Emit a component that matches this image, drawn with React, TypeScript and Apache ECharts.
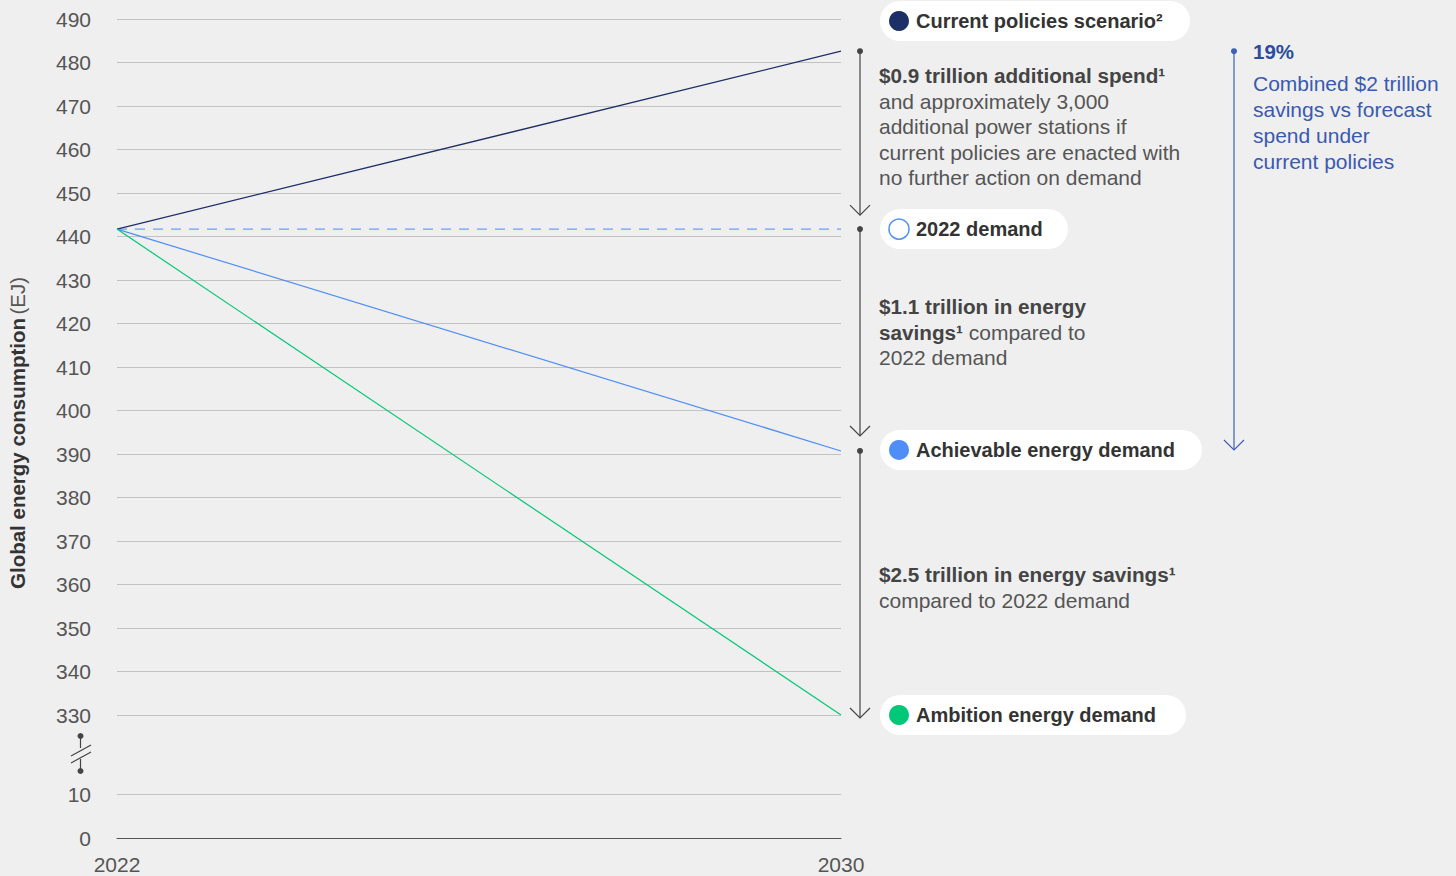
import React, { useEffect, useRef } from "react";
import * as echarts from "echarts";

const years = ["2022", "2030"];
const currentPolicies = [441.7, 482.6];
const demand2022 = [441.7, 441.7];
const achievable = [441.7, 390.7];
const ambition = [441.7, 330];
const upperMin = 330;
const upperMax = 490;
const lowerMin = 0;
const lowerMax = 10;
const tickStep = 10;

const FONT = "'Liberation Sans', Arial, Helvetica, sans-serif";
const BG = "#efefef";
const NAVY = "#1c2f66";
const BLUE = "#4f8ef7";
const LIGHTBLUE = "#6f9ff5";
const GREEN = "#00c877";
const TXT = "#333333";
const TXT2 = "#555555";
const ANN = "#3a5ab0";

export default function App() {
  const ref = useRef<HTMLDivElement>(null);
  useEffect(() => {
    if (!ref.current) return;
    const chart = echarts.init(ref.current, undefined, { renderer: "svg" });
    const axisLabel = { fontSize: 21, color: TXT2, fontFamily: FONT };
    chart.setOption({
      animation: false,
      backgroundColor: BG,
      grid: [
        { left: 117, right: 615, top: 19, height: 696 },
        { left: 117, right: 615, top: 794, height: 44 },
      ],
      xAxis: [
        {
          type: "category", gridIndex: 0, data: years, boundaryGap: false,
          axisLine: { show: false }, axisTick: { show: false }, axisLabel: { show: false }, splitLine: { show: false },
        },
        {
          type: "category", gridIndex: 1, data: years, boundaryGap: false,
          axisLine: { show: true, lineStyle: { color: "#555", width: 1 } }, axisTick: { show: false },
          axisLabel: { ...axisLabel, margin: 16 }, splitLine: { show: false },
        },
      ],
      yAxis: [
        {
          type: "value", gridIndex: 0, min: upperMin, max: upperMax, interval: tickStep,
          axisLine: { show: false }, axisTick: { show: false },
          axisLabel: { ...axisLabel, margin: 26 },
          splitLine: { lineStyle: { color: "#c2c2c2", width: 1 } },
        },
        {
          type: "value", gridIndex: 1, min: lowerMin, max: lowerMax, interval: tickStep,
          axisLine: { show: false }, axisTick: { show: false },
          axisLabel: { ...axisLabel, margin: 26 },
          splitLine: { lineStyle: { color: "#c2c2c2", width: 1 } },
        },
      ],
      series: [
        { name: "2022 demand", type: "line", xAxisIndex: 0, yAxisIndex: 0, data: demand2022, symbol: "none",
          lineStyle: { color: LIGHTBLUE, width: 1.3, type: [10, 8] }, z: 2 },
        { name: "Current policies scenario", type: "line", xAxisIndex: 0, yAxisIndex: 0, data: currentPolicies, symbol: "none",
          lineStyle: { color: NAVY, width: 1.3 }, z: 3 },
        { name: "Achievable energy demand", type: "line", xAxisIndex: 0, yAxisIndex: 0, data: achievable, symbol: "none",
          lineStyle: { color: BLUE, width: 1.2 }, z: 3 },
        { name: "Ambition energy demand", type: "line", xAxisIndex: 0, yAxisIndex: 0, data: ambition, symbol: "none",
          lineStyle: { color: GREEN, width: 1.2 }, z: 3 },
        { type: "line", xAxisIndex: 1, yAxisIndex: 1, data: [], symbol: "none" },
      ],
    });

    const py = (v: number) => chart.convertToPixel({ yAxisIndex: 0 }, v) as number;
    const yCur = py(currentPolicies[1]);
    const yDem = py(demand2022[1]);
    const yAch = py(achievable[1]);
    const yAmb = py(ambition[1]);
    const yTop = py(upperMax);

    const ax = 860;
    const arrow = (x: number, y1: number, y2: number, color: string, w = 1.2) => [
      { type: "line", shape: { x1: x, y1, x2: x, y2 }, style: { stroke: color, lineWidth: w } },
      { type: "circle", shape: { cx: x, cy: y1, r: 3 }, style: { fill: color } },
      { type: "polyline", shape: { points: [[x - 10, y2 - 10], [x, y2], [x + 10, y2 - 10]] }, style: { stroke: color, lineWidth: w, fill: "none" } },
    ];

    const pill = (cy: number, w: number, label: string, circleStyle: any) => [
      { type: "rect", shape: { x: 880, y: cy - 20, width: w, height: 40, r: 20 }, style: { fill: "#ffffff" } },
      { type: "circle", shape: { cx: 899, cy, r: 10 }, style: circleStyle },
      { type: "text", x: 916, y: cy, style: { text: label, font: `bold 20px ${FONT}`, fill: TXT, verticalAlign: "middle" } },
    ];

    const richBlock = (x: number, y: number, text: string, lh: number, color: string) => ({
      type: "text", x, y,
      style: {
        text, verticalAlign: "top", lineHeight: lh,
        rich: {
          b: { fontFamily: FONT, fontSize: 20.7, fontWeight: "bold", fill: "#444", lineHeight: lh },
          n: { fontFamily: FONT, fontSize: 21, fontWeight: "normal", fill: color, lineHeight: lh },
        },
      },
    });

    const graphic: any[] = [
      ...arrow(ax, yCur, yDem - 14, "#444"),
      ...arrow(ax, yDem, yAch - 15, "#444"),
      ...arrow(ax, yAch, yAmb + 3, "#444"),
      ...arrow(1234, yCur, yAch - 1, "#3d5fb8"),
      ...pill(yTop + 2, 310, "Current policies scenario²", { fill: NAVY }),
      ...pill(yDem, 188, "2022 demand", { fill: "#ffffff", stroke: BLUE, lineWidth: 1.5 }),
      ...pill(yAch - 1, 322, "Achievable energy demand", { fill: BLUE }),
      ...pill(yAmb, 306, "Ambition energy demand", { fill: GREEN }),
      richBlock(879, 63,
        "{b|$0.9 trillion additional spend¹}\n{n|and approximately 3,000}\n{n|additional power stations if}\n{n|current policies are enacted with}\n{n|no further action on demand}",
        25.5, TXT2),
      richBlock(879, 294,
        "{b|$1.1 trillion in energy}\n{b|savings¹}{n| compared to}\n{n|2022 demand}",
        25.5, TXT2),
      richBlock(879, 562,
        "{b|$2.5 trillion in energy savings¹}\n{n|compared to 2022 demand}",
        25.5, TXT2),
      { type: "text", x: 1253, y: 51, style: { text: "19%", font: `bold 20.5px ${FONT}`, fill: "#2d4c9e", verticalAlign: "middle" } },
      {
        type: "text", x: 1253, y: 70,
        style: { text: "Combined $2 trillion\nsavings vs forecast\nspend under\ncurrent policies", font: `21px ${FONT}`, fill: ANN, lineHeight: 26, verticalAlign: "top" },
      },
      // axis break
      { type: "line", shape: { x1: 80.5, y1: 736, x2: 80.5, y2: 748 }, style: { stroke: "#444", lineWidth: 1.2 } },
      { type: "line", shape: { x1: 80.5, y1: 759, x2: 80.5, y2: 771 }, style: { stroke: "#444", lineWidth: 1.2 } },
      { type: "line", shape: { x1: 71, y1: 756, x2: 91, y2: 745 }, style: { stroke: "#444", lineWidth: 1.2 } },
      { type: "line", shape: { x1: 71, y1: 763, x2: 91, y2: 752 }, style: { stroke: "#444", lineWidth: 1.2 } },
      { type: "circle", shape: { cx: 80.5, cy: 736, r: 3 }, style: { fill: "#444" } },
      { type: "circle", shape: { cx: 80.5, cy: 771, r: 3 }, style: { fill: "#444" } },
      // y axis title
      {
        type: "text", x: 17, y: 433, rotation: Math.PI / 2,
        style: {
          text: "{b|Global energy consumption} {n|(EJ)}", align: "center", verticalAlign: "middle",
          rich: {
            b: { fontFamily: FONT, fontSize: 20.5, fontWeight: "bold", fill: TXT },
            n: { fontFamily: FONT, fontSize: 20.5, fill: TXT2 },
          },
        },
      },
    ];
    chart.setOption({ graphic });
    return () => chart.dispose();
  }, []);
  return <div ref={ref} style={{ position: "fixed", left: 0, top: 0, width: 1456, height: 876, background: BG }} />;
}
